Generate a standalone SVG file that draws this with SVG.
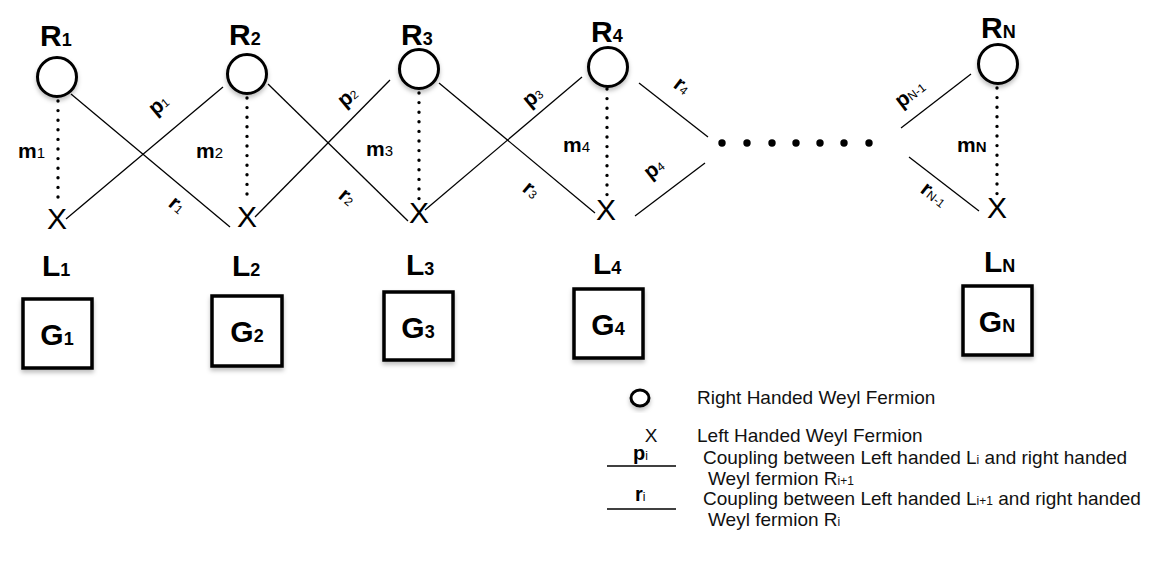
<svg xmlns="http://www.w3.org/2000/svg" width="1156" height="580" viewBox="0 0 1156 580">
<style>
.big{font-family:"Liberation Sans",Arial,sans-serif;font-weight:bold;font-size:30px;fill:#000}
.lab{font-family:"Liberation Sans",Arial,sans-serif;font-weight:bold;font-size:21px;fill:#000}
.xm{font-family:"Liberation Sans",Arial,sans-serif;font-size:30px;fill:#000}
.leg{font-family:"Liberation Sans",Arial,sans-serif;font-size:19px;fill:#111}
.legb{font-family:"Liberation Sans",Arial,sans-serif;font-weight:bold;font-size:20px;fill:#000}
.circ{fill:#fff;stroke:#000;stroke-width:3}
.box{fill:#fff;stroke:#000;stroke-width:3.5}
.ln{stroke:#000;stroke-width:1.3;fill:none}
.dot{stroke:#000;stroke-width:3.4;stroke-linecap:round;stroke-dasharray:0 9.6;fill:none}
</style>
<defs>
<filter id="sh" x="-30%" y="-30%" width="160%" height="170%">
<feDropShadow dx="0" dy="3" stdDeviation="2" flood-color="#000" flood-opacity="0.25"/>
</filter>
</defs>
<rect width="1156" height="580" fill="#fff"/>

<g id="connectors">
<line class="dot" x1="58" y1="101" x2="58" y2="206"/>
<line class="dot" x1="247" y1="98" x2="247" y2="203"/>
<line class="dot" x1="419" y1="93" x2="419" y2="199"/>
<line class="dot" x1="607" y1="89" x2="607" y2="196"/>
<line class="dot" x1="997" y1="88" x2="997" y2="194"/>
<line class="ln" x1="71" y1="94" x2="230" y2="227"/>
<line class="ln" x1="66" y1="219" x2="223" y2="87"/>
<line class="ln" x1="268" y1="84" x2="408" y2="221"/>
<line class="ln" x1="255" y1="217" x2="390" y2="80"/>
<line class="ln" x1="439" y1="83" x2="595" y2="213"/>
<line class="ln" x1="425" y1="210" x2="582" y2="77"/>
<line class="ln" x1="639" y1="83" x2="708" y2="137"/>
<line class="ln" x1="635" y1="216" x2="705" y2="163"/>
<line class="ln" x1="901" y1="128" x2="971" y2="74"/>
<line class="ln" x1="909" y1="157" x2="979" y2="211"/>
<g fill="#000">
<circle cx="722" cy="143" r="3.7"/><circle cx="747" cy="143" r="3.7"/><circle cx="772" cy="143" r="3.7"/><circle cx="796" cy="143" r="3.7"/><circle cx="820" cy="143" r="3.7"/><circle cx="844" cy="143" r="3.7"/><circle cx="869" cy="143" r="3.7"/>
</g>
<text class="lab" transform="translate(163,110) rotate(-40)" text-anchor="middle">p<tspan font-size="12" font-weight="normal">1</tspan></text>
<text class="lab" transform="translate(352,102) rotate(-40)" text-anchor="middle">p<tspan font-size="12" font-weight="normal">2</tspan></text>
<text class="lab" transform="translate(537,102) rotate(-40)" text-anchor="middle">p<tspan font-size="12" font-weight="normal">3</tspan></text>
<text class="lab" transform="translate(658,174) rotate(-38)" text-anchor="middle">p<tspan font-size="12" font-weight="normal">4</tspan></text>
<text class="lab" transform="translate(914,99) rotate(-37)" text-anchor="middle">p<tspan font-size="12" font-weight="normal">N-1</tspan></text>
<text class="lab" transform="translate(173,210) rotate(40)" text-anchor="middle">r<tspan font-size="12" font-weight="normal">1</tspan></text>
<text class="lab" transform="translate(343,202) rotate(40)" text-anchor="middle">r<tspan font-size="12" font-weight="normal">2</tspan></text>
<text class="lab" transform="translate(527,195) rotate(40)" text-anchor="middle">r<tspan font-size="12" font-weight="normal">3</tspan></text>
<text class="lab" transform="translate(678,91) rotate(38)" text-anchor="middle">r<tspan font-size="12" font-weight="normal">4</tspan></text>
<text class="lab" transform="translate(930,200) rotate(38)" text-anchor="middle">r<tspan font-size="12" font-weight="normal">N-1</tspan></text>
<text class="lab" x="18" y="158">m<tspan font-size="15" font-weight="normal">1</tspan></text>
<text class="lab" x="196" y="158">m<tspan font-size="15" font-weight="normal">2</tspan></text>
<text class="lab" x="366" y="156">m<tspan font-size="15" font-weight="normal">3</tspan></text>
<text class="lab" x="563" y="152">m<tspan font-size="15" font-weight="normal">4</tspan></text>
<text class="lab" x="957" y="152">m<tspan font-size="15">N</tspan></text>
</g>

<g id="R1"><text class="big" x="40" y="46">R<tspan font-size="18">1</tspan></text><circle class="circ" filter="url(#sh)" cx="57" cy="77" r="19.5"/></g>
<g id="R2"><text class="big" x="229" y="45">R<tspan font-size="18">2</tspan></text><circle class="circ" filter="url(#sh)" cx="247" cy="74" r="19.5"/></g>
<g id="R3"><text class="big" x="401" y="45">R<tspan font-size="18">3</tspan></text><circle class="circ" filter="url(#sh)" cx="419" cy="69" r="19.5"/></g>
<g id="R4"><text class="big" x="591" y="42">R<tspan font-size="18">4</tspan></text><circle class="circ" filter="url(#sh)" cx="608" cy="67" r="19.5"/></g>
<g id="RN"><text class="big" x="981" y="38">R<tspan font-size="18">N</tspan></text><circle class="circ" filter="url(#sh)" cx="998" cy="64" r="19.5"/></g>

<g id="L1"><text class="xm" x="57" y="229" text-anchor="middle">X</text><text class="big" x="42" y="276">L<tspan font-size="18">1</tspan></text></g>
<g id="L2"><text class="xm" x="247" y="227" text-anchor="middle">X</text><text class="big" x="232" y="276">L<tspan font-size="18">2</tspan></text></g>
<g id="L3"><text class="xm" x="419" y="223" text-anchor="middle">X</text><text class="big" x="406" y="275">L<tspan font-size="18">3</tspan></text></g>
<g id="L4"><text class="xm" x="606" y="220" text-anchor="middle">X</text><text class="big" x="593" y="274">L<tspan font-size="18">4</tspan></text></g>
<g id="LN"><text class="xm" x="997" y="218" text-anchor="middle">X</text><text class="big" x="984" y="272">L<tspan font-size="18">N</tspan></text></g>

<g id="G1"><rect class="box" filter="url(#sh)" x="23" y="299" width="69" height="69"/><text class="big" x="57" y="345" text-anchor="middle">G<tspan font-size="18">1</tspan></text></g>
<g id="G2"><rect class="box" filter="url(#sh)" x="212" y="296" width="70" height="70"/><text class="big" x="247" y="342" text-anchor="middle">G<tspan font-size="18">2</tspan></text></g>
<g id="G3"><rect class="box" filter="url(#sh)" x="384" y="292" width="69" height="68"/><text class="big" x="418" y="338" text-anchor="middle">G<tspan font-size="18">3</tspan></text></g>
<g id="G4"><rect class="box" filter="url(#sh)" x="574" y="289" width="69" height="69"/><text class="big" x="608" y="335" text-anchor="middle">G<tspan font-size="18">4</tspan></text></g>
<g id="GN"><rect class="box" filter="url(#sh)" x="963" y="286" width="69" height="69"/><text class="big" x="997" y="332" text-anchor="middle">G<tspan font-size="18">N</tspan></text></g>

<g id="legend">
<ellipse class="circ" filter="url(#sh)" cx="640" cy="398" rx="9" ry="8"/>
<text class="leg" x="697" y="404">Right Handed Weyl Fermion</text>
<text class="leg" x="651" y="442" text-anchor="middle">X</text>
<text class="leg" x="697" y="442">Left Handed Weyl Fermion</text>
<text class="legb" x="633" y="460">p<tspan font-size="12" font-weight="normal">i</tspan></text>
<line x1="607" y1="466" x2="676" y2="466" stroke="#000" stroke-width="1.5"/>
<text class="leg" x="703" y="464">Coupling between Left handed L<tspan font-size="12">i</tspan> and right handed</text>
<text class="leg" x="708" y="485">Weyl fermion R<tspan font-size="12">i+1</tspan></text>
<text class="legb" x="635" y="501">r<tspan font-size="12" font-weight="normal">i</tspan></text>
<line x1="607" y1="509" x2="676" y2="509" stroke="#000" stroke-width="1.5"/>
<text class="leg" x="703" y="505">Coupling between Left handed L<tspan font-size="12">i+1</tspan> and right handed</text>
<text class="leg" x="708" y="526">Weyl fermion R<tspan font-size="12">i</tspan></text>
</g>
</svg>
